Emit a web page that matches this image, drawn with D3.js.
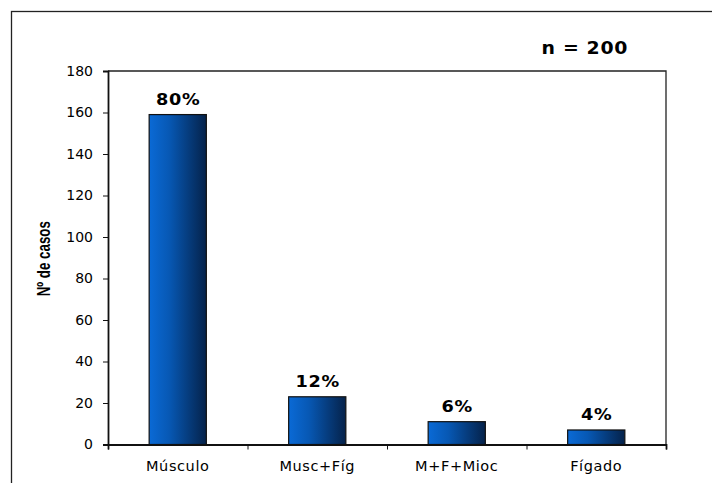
<!DOCTYPE html>
<html>
<head>
<meta charset="utf-8">
<script src="https://cdn.jsdelivr.net/npm/d3@7"></script>
<style>
  html, body { margin: 0; padding: 0; background: #fff; }
  svg { display: block; }
</style>
</head>
<body>
<svg id="chart" width="712" height="483"></svg>
<script>
// Cases by affected organ
const categories = ["Músculo", "Musc+Fíg", "M+F+Mioc", "Fígado"];
const cases = [159, 23, 11, 7];
const percentLabels = ["80%", "12%", "6%", "4%"];
const yTicks = [0, 20, 40, 60, 80, 100, 120, 140, 160, 180];
const totalLabel = "n = 200";
const yTitle = "Nº de casos";

const svg = d3.select("#chart");
const plot = { left: 108, right: 666, top: 71, bottom: 444.5 };
const FONT = "'DejaVu Sans', Verdana, sans-serif";

// Outer chart frame (extends past the right and bottom edges)
svg.append("rect")
  .attr("x", 11.5).attr("y", 11.5)
  .attr("width", 760).attr("height", 520)
  .attr("fill", "none").attr("stroke", "#222").attr("stroke-width", 1.3);

const x = d3.scaleBand()
  .domain(categories)
  .range([plot.left, plot.right])
  .paddingInner(0.59).paddingOuter(0.295);

const xBounds = d3.scaleLinear()
  .domain([0, categories.length])
  .range([plot.left, plot.right]);

const y = d3.scaleLinear()
  .domain([0, 180])
  .range([plot.bottom, plot.top]);

// Bar gradient: bright blue to dark navy
const defs = svg.append("defs");
const grad = defs.append("linearGradient")
  .attr("id", "barGrad").attr("x1", "0%").attr("x2", "100%").attr("y1", "0%").attr("y2", "0%");
grad.append("stop").attr("offset", "0%").attr("stop-color", "#0a6ad6");
grad.append("stop").attr("offset", "35%").attr("stop-color", "#0758b4");
grad.append("stop").attr("offset", "100%").attr("stop-color", "#05224a");

// Plot area frame (top and right edges)
svg.append("path")
  .attr("d", `M${plot.left},${plot.top}H${plot.right}V${plot.bottom}`)
  .attr("fill", "none").attr("stroke", "#222").attr("stroke-width", 1.3);

// Bars
svg.append("g").selectAll("rect")
  .data(categories)
  .join("rect")
  .attr("x", d => x(d))
  .attr("y", (d, i) => y(cases[i]))
  .attr("width", x.bandwidth())
  .attr("height", (d, i) => y(0) - y(cases[i]))
  .attr("fill", "url(#barGrad)")
  .attr("stroke", "#111").attr("stroke-width", 1.2);

// Percent labels above bars (wide bold face)
svg.append("g").selectAll("text")
  .data(categories)
  .join("text")
  .attr("transform", (d, i) => `translate(${x(d) + x.bandwidth() / 2 + 0.5},${y(cases[i]) - 9.5}) scale(1.14,1)`)
  .attr("text-anchor", "middle")
  .attr("font-family", FONT)
  .attr("font-weight", "bold")
  .attr("font-size", 15.5)
  .attr("letter-spacing", 0.6)
  .attr("fill", "#000")
  .text((d, i) => percentLabels[i]);

// Y axis
const yAxis = d3.axisLeft(y).tickValues(yTicks).tickSize(5).tickPadding(10);
const gy = svg.append("g")
  .attr("transform", `translate(${plot.left},0)`)
  .call(yAxis);
gy.select(".domain").attr("stroke", "#111").attr("stroke-width", 1.8);
gy.selectAll(".tick line").attr("stroke", "#111").attr("stroke-width", 1);
gy.selectAll(".tick text")
  .attr("font-family", FONT)
  .attr("font-size", 14).attr("fill", "#000");

// X axis: ticks at category boundaries, labels centred in each band
const gx = svg.append("g")
  .attr("transform", `translate(0,${plot.bottom})`)
  .call(d3.axisBottom(xBounds).tickValues(d3.range(categories.length + 1)).tickSize(5).tickFormat(""));
gx.select(".domain").attr("stroke", "#111").attr("stroke-width", 1.8);
gx.selectAll(".tick line").attr("stroke", "#111").attr("stroke-width", 1);

svg.append("g").selectAll("text")
  .data(categories)
  .join("text")
  .attr("x", d => x(d) + x.bandwidth() / 2)
  .attr("y", plot.bottom + 26)
  .attr("text-anchor", "middle")
  .attr("font-family", FONT)
  .attr("font-size", 14.5)
  .attr("letter-spacing", 0.6)
  .attr("fill", "#000")
  .text(d => d);

// Y axis title (condensed bold)
svg.append("text")
  .attr("transform", `translate(50,${(plot.top + plot.bottom) / 2 + 1}) rotate(-90) scale(0.74,1)`)
  .attr("text-anchor", "middle")
  .attr("font-family", "'Liberation Sans', Arial, sans-serif")
  .attr("font-weight", "bold")
  .attr("font-size", 18)
  .attr("fill", "#000")
  .text(yTitle);

// Sample size
svg.append("text")
  .attr("transform", "translate(628,54) scale(1.08,1)")
  .attr("text-anchor", "end")
  .attr("font-family", FONT)
  .attr("font-weight", "bold")
  .attr("font-size", 17.5)
  .attr("letter-spacing", 0.6)
  .attr("fill", "#000")
  .text(totalLabel);
</script>
</body>
</html>
